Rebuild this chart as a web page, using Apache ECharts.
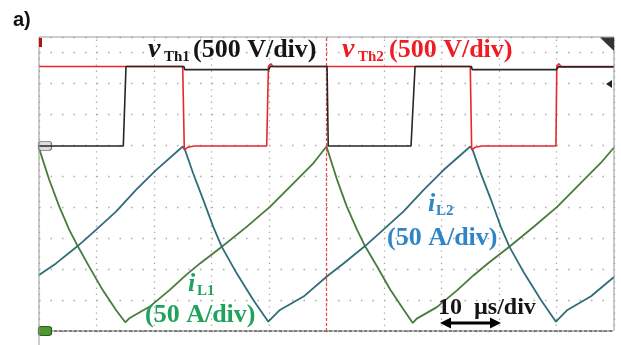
<!DOCTYPE html>
<html><head><meta charset="utf-8">
<script src="https://cdn.jsdelivr.net/npm/echarts@6/dist/echarts.min.js"></script>
<style>html,body{margin:0;padding:0;background:#fff}#c{width:621px;height:345px}</style>
</head><body><div id="c"></div>
<script>
// time in µs (10 µs/div), amplitude in screen divisions above the iL ground line
const vTh1 = [[0,5.97],[14.66,5.97],[15.13,8.53],[25.2,8.53],[25.35,8.43],[39.95,8.43],[40.2,8.53],[50.1,8.53],[50.3,5.97],[64.7,5.97],[65.4,8.53],[75.2,8.53],[75.35,8.43],[90.0,8.43],[90.3,8.52],[100,8.52]];
const vTh2 = [[0,8.53],[24.99,8.53],[25.27,5.84],[25.9,5.93],[27.0,5.97],[39.6,5.97],[39.9,8.53],[40.3,8.62],[40.7,8.53],[75.0,8.53],[75.25,5.84],[75.9,5.93],[77.0,5.97],[89.9,5.97],[90.05,8.53],[90.4,8.62],[90.8,8.53],[100,8.53]];
const iL1 = [[0,5.90],[1.79,4.87],[3.53,4.01],[5.27,3.26],[6.73,2.74],[8.75,2.07],[11.08,1.32],[13.39,0.68],[15.0,0.28],[15.7,0.41],[19.2,0.78],[22.7,1.32],[25.6,1.81],[28.0,2.18],[31.8,2.72],[36.1,3.36],[40.2,4.01],[44.8,4.87],[47.7,5.41],[50.0,5.95],[51.8,4.90],[53.5,4.03],[55.3,3.27],[56.7,2.74],[58.8,2.08],[61.1,1.33],[63.4,0.69],[65.0,0.26],[65.7,0.40],[69.2,0.77],[72.7,1.31],[75.6,1.80],[78.0,2.17],[81.8,2.72],[86.1,3.37],[90.2,4.02],[94.8,4.88],[97.7,5.42],[100,5.92]];
const iL2 = [[0,1.81],[2.96,2.18],[6.73,2.74],[9.91,3.26],[13.39,3.85],[16.87,4.55],[20.35,5.19],[25.0,5.95],[25.4,5.84],[26.8,5.09],[28.57,4.23],[30.31,3.36],[31.77,2.72],[34.38,1.86],[37.27,1.0],[39.88,0.30],[41.9,0.68],[46.0,1.11],[50.0,1.75],[52.9,2.17],[56.7,2.74],[59.9,3.27],[63.4,3.86],[66.9,4.55],[70.4,5.20],[75.0,5.95],[75.4,5.85],[76.8,5.10],[78.6,4.24],[80.3,3.37],[81.8,2.72],[84.4,1.86],[87.3,1.0],[89.9,0.30],[91.9,0.68],[96.0,1.12],[100,1.74]];
const triggerTime = [50];
const groundLevels = {vTh1: 5.97, iL1: 0};

const chart = echarts.init(document.getElementById('c'), null, {renderer: 'canvas'});
const yMax = 294 / 31;
const serif = '"Liberation Serif", "Times New Roman", serif';
function txt(text, x, y, size, color, opts) {
  opts = opts || {};
  return {type: 'text', silent: true, z: 100, style: {text: text, x: x, y: y,
    font: (opts.italic ? 'italic ' : '') + 'bold ' + size + 'px ' + (opts.family || serif),
    fill: color, textAlign: 'left', textVerticalAlign: 'middle'}};
}
const cBlack = '#151515', cRed = '#ee1c24', cGreen = '#1fa35c', cBlue = '#2f86c6';
const option = {
  animation: false,
  backgroundColor: '#ffffff',
  grid: {left: 39, right: 7, top: 37, bottom: 14},
  xAxis: {type: 'value', min: 0, max: 100, interval: 10,
    axisLabel: {show: false}, axisTick: {show: false},
    axisLine: {show: true, onZero: false, lineStyle: {color: '#555', width: 1.5, type: [3, 2]}},
    splitLine: {show: true, lineStyle: {color: '#aaa', width: 1.3, type: [1.3, 4.9], dashOffset: 3.6}}},
  yAxis: {type: 'value', min: 0, max: yMax, interval: 1,
    axisLabel: {show: false}, axisTick: {show: false}, axisLine: {show: false},
    splitLine: {show: true, lineStyle: {color: '#aaa', width: 1.3, type: [1.5, 10]}}},
  series: [
    {name: 'iL1', type: 'line', data: iL1, showSymbol: false, smooth: false,
      lineStyle: {color: '#4a7a3c', width: 1.8}, z: 3,
      markPoint: {silent: true, symbol: 'roundRect', symbolSize: [13, 9], symbolOffset: [6, 0],
        itemStyle: {color: '#4f9a2f', borderColor: '#2d5a1a', borderWidth: 1}, label: {show: false},
        data: [{coord: [0, groundLevels.iL1]}]}},
    {name: 'iL2', type: 'line', data: iL2, showSymbol: false,
      lineStyle: {color: '#2f6e78', width: 1.8}, z: 3},
    {name: 'vTh2', type: 'line', data: vTh2, showSymbol: false,
      lineStyle: {color: '#e8262c', width: 1.6}, z: 4,
      markLine: {silent: true, symbol: 'none', label: {show: false},
        lineStyle: {color: '#f04848', width: 1.2, type: [3, 2]},
        data: triggerTime.map(t => ({xAxis: t}))}},
    {name: 'vTh1', type: 'line', data: vTh1, showSymbol: false,
      lineStyle: {color: '#262626', width: 1.6}, z: 5,
      markPoint: {silent: true, symbol: 'roundRect', symbolSize: [13, 9], symbolOffset: [6, 0],
        itemStyle: {color: '#ddd', borderColor: '#777', borderWidth: 1}, label: {show: false},
        data: [{coord: [0, groundLevels.vTh1]}]}}
  ],
  graphic: [
    {type: 'polyline', silent: true, z: 50, shape: {points: [[39, 345], [39, 37], [614, 37], [614, 331]]},
      style: {stroke: '#999', lineWidth: 1, fill: null}},
    {type: 'polygon', silent: true, z: 50, shape: {points: [[600, 37.5], [614, 37.5], [614, 51]]}, style: {fill: '#333'}},
    {type: 'polygon', silent: true, z: 50, shape: {points: [[606, 84], [612, 80], [612, 88]]}, style: {fill: '#222'}},
    {type: 'rect', silent: true, z: 50, shape: {x: 39, y: 38, width: 3, height: 9}, style: {fill: '#b01515'}},
    txt('a)', 13, 20.5, 20, '#111', {family: '"Liberation Sans", Arial, sans-serif'}),
    txt('v', 148, 49.5, 28, cBlack, {italic: true}),
    txt('Th1', 164, 56.9, 15, cBlack),
    txt('(500 V/div)', 193, 50.2, 26, cBlack),
    txt('v', 342, 49.5, 28, cRed, {italic: true}),
    txt('Th2', 358, 56.9, 15, cRed),
    txt('(500 V/div)', 389, 50.2, 26, cRed),
    txt('i', 188, 284.2, 26, cGreen, {italic: true}),
    txt('L1', 197, 290.9, 15, cGreen),
    txt('(50 A/div)', 145, 315.2, 26, cGreen),
    txt('i', 428, 204.2, 26, cBlue, {italic: true}),
    txt('L2', 436, 210.9, 15, cBlue),
    txt('(50 A/div)', 387, 238.2, 26, cBlue),
    txt('10  µs/div', 438, 307.8, 24, cBlack),
    {type: 'line', silent: true, z: 100, shape: {x1: 447, y1: 323, x2: 494, y2: 323}, style: {stroke: '#000', lineWidth: 3}},
    {type: 'polygon', silent: true, z: 100, shape: {points: [[440, 323], [451, 317.5], [451, 328.5]]}, style: {fill: '#000'}},
    {type: 'polygon', silent: true, z: 100, shape: {points: [[501, 323], [490, 317.5], [490, 328.5]]}, style: {fill: '#000'}}
  ]
};
chart.setOption(option);
</script>
</body></html>
